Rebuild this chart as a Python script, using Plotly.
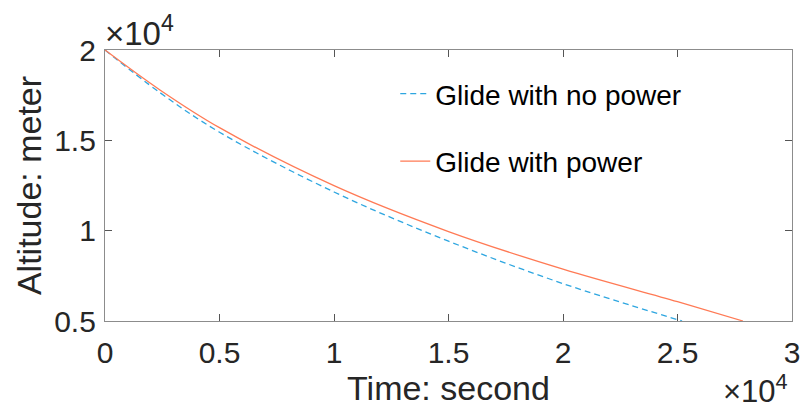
import plotly.graph_objects as go

# Time (s) and altitude (m)
t_nopower = [0, 2400, 5000, 10000, 15000, 20000, 25200]
h_nopower = [20000, 17640, 15450, 12140, 9420, 7070, 5000]

t_power = [0, 2400, 5000, 10000, 15000, 20000, 25000, 27860]
h_power = [20000, 17790, 15700, 12490, 9950, 7870, 6070, 5000]

x_tickvals = [0, 5000, 10000, 15000, 20000, 25000, 30000]
x_ticktext = ["0", "0.5", "1", "1.5", "2", "2.5", "3"]
y_tickvals = [5000, 10000, 15000, 20000]
y_ticktext = ["0.5", "1", "1.5", "2"]

FONT = "Liberation Sans, Arial, Helvetica, sans-serif"
TXT = "#262626"

fig = go.Figure()
fig.add_trace(go.Scatter(
    x=t_nopower, y=h_nopower, mode="lines", name="Glide with no power",
    line=dict(color="#2EA6E0", width=1.3, dash="6px,4px", shape="spline"),
    legendgroup="a"))
fig.add_trace(go.Scatter(
    x=t_power, y=h_power, mode="lines", name="Glide with power",
    line=dict(color="#FF7A55", width=1.3, shape="spline"),
    legendgroup="b"))

axis_common = dict(
    showgrid=False, zeroline=False, showline=True, linecolor="#8C8C8C",
    linewidth=1.3, mirror="ticks", ticks="inside", ticklen=7, tickwidth=1,
    tickcolor="#555555", tickfont=dict(family=FONT, size=30, color=TXT),
    automargin=False,
)

fig.update_xaxes(range=[0, 30000], tickvals=x_tickvals, ticktext=x_ticktext,
                 title=dict(text="Time: second", font=dict(family=FONT, size=34, color=TXT),
                            standoff=2),
                 ticklabelstandoff=5, **axis_common)
fig.update_yaxes(range=[5000, 20000], tickvals=y_tickvals, ticktext=y_ticktext,
                 title=dict(text="Altitude: meter", font=dict(family=FONT, size=34, color=TXT),
                            standoff=2),
                 ticklabelstandoff=2, **axis_common)

fig.add_annotation(x=0, y=1, xref="paper", yref="paper", xanchor="left", yanchor="bottom",
                   text="×10<sup>4</sup>", showarrow=False, yshift=-4, xshift=-2,
                   font=dict(family=FONT, size=33, color=TXT))
fig.add_annotation(x=1, y=0, xref="paper", yref="paper", xanchor="right", yanchor="top",
                   text="×10<sup>4</sup>", showarrow=False, yshift=-46, xshift=-2,
                   font=dict(family=FONT, size=31, color=TXT))

fig.update_layout(
    width=802, height=412,
    margin=dict(l=105, r=10, t=50, b=91, autoexpand=False),
    paper_bgcolor="white", plot_bgcolor="white",
    showlegend=True,
    legend=dict(x=0.4225, y=0.93, xanchor="left", yanchor="top",
                bgcolor="rgba(0,0,0,0)", borderwidth=0,
                traceorder="grouped", tracegroupgap=28,
                font=dict(family=FONT, size=28, color="black")),
)

fig.write_html("out.html")
